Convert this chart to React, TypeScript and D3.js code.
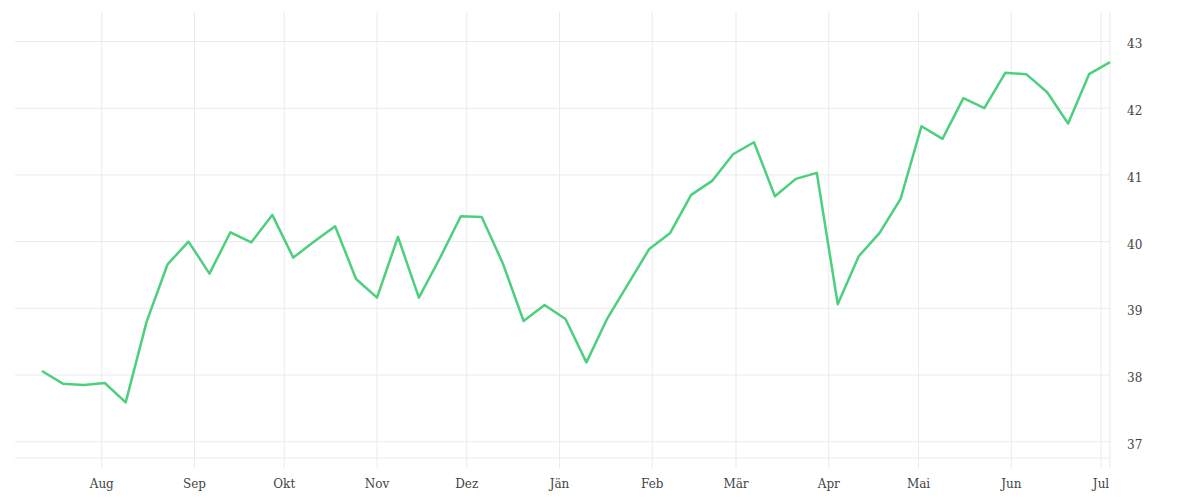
import React from 'react';
import * as d3 from 'd3';

// weekly values, first week starts 2022-07-12
const startDate = new Date(2022, 6, 12);
const values = [
  38.06, 37.87, 37.85, 37.88, 37.59, 38.8, 39.66, 40.0, 39.52, 40.14,
  39.99, 40.4, 39.76, 40.0, 40.23, 39.44, 39.16, 40.07, 39.16, 39.75,
  40.38, 40.37, 39.68, 38.81, 39.05, 38.84, 38.19, 38.85, 39.37, 39.89,
  40.13, 40.7, 40.91, 41.31, 41.49, 40.68, 40.94, 41.03, 39.06, 39.78,
  40.13, 40.64, 41.73, 41.54, 42.15, 42.0, 42.53, 42.51, 42.24, 41.77,
  42.51, 42.69,
];
const monthLabels = ['Jän', 'Feb', 'Mär', 'Apr', 'Mai', 'Jun', 'Jul', 'Aug', 'Sep', 'Okt', 'Nov', 'Dez'];
const yTicks = [37, 38, 39, 40, 41, 42, 43];

const width = 1184;
const height = 484;
const margin = { top: 4, right: 82, bottom: 34, left: 7 };
const gridColor = '#ebebeb';
const textColor = '#444';
const font = '"DejaVu Serif", serif';

export default function App() {
  const data = values.map((v, i) => ({ date: d3.timeDay.offset(startDate, i * 7), value: v }));

  const x = d3
    .scaleTime()
    .domain([new Date(2022, 6, 3), new Date(2023, 6, 4)])
    .range([margin.left, width - margin.right]);

  const y = d3
    .scaleLinear()
    .domain([36.756, 43.442])
    .range([height - margin.bottom, margin.top]);

  const months = x.ticks(d3.timeMonth.every(1)!);

  const line = d3
    .line<{ date: Date; value: number }>()
    .x((d) => x(d.date))
    .y((d) => y(d.value));

  const plotBottom = height - margin.bottom;
  const plotRight = width - margin.right;

  return (
    <svg width={width} height={height} style={{ display: 'block' }}>
      {/* horizontal grid */}
      {yTicks.map((t) => (
        <line key={'h' + t} x1={margin.left} x2={plotRight} y1={y(t)} y2={y(t)} stroke={gridColor} strokeWidth={1} />
      ))}
      <line x1={margin.left} x2={plotRight} y1={plotBottom} y2={plotBottom} stroke={gridColor} strokeWidth={1} />

      {/* vertical grid */}
      {months.map((m) => (
        <line key={'v' + m.getTime()} x1={x(m)} x2={x(m)} y1={margin.top} y2={plotBottom + 10} stroke={gridColor} strokeWidth={1} />
      ))}
      <line x1={plotRight} x2={plotRight} y1={margin.top} y2={plotBottom + 10} stroke={gridColor} strokeWidth={1} />

      {/* series */}
      <path d={line(data) ?? ''} fill="none" stroke="#4cd07d" strokeWidth={2.5} strokeLinejoin="round" />

      {/* x labels */}
      {months.map((m) => (
        <text
          key={'xl' + m.getTime()}
          x={x(m)}
          y={plotBottom + 30}
          textAnchor="middle"
          fontFamily={font}
          fontSize={12}
          fill={textColor}
        >
          {monthLabels[m.getMonth()]}
        </text>
      ))}

      {/* y labels */}
      {yTicks.map((t) => (
        <text key={'yl' + t} x={plotRight + 17} y={y(t) + 7} fontFamily={font} fontSize={12} fill={textColor}>
          {t}
        </text>
      ))}
    </svg>
  );
}
